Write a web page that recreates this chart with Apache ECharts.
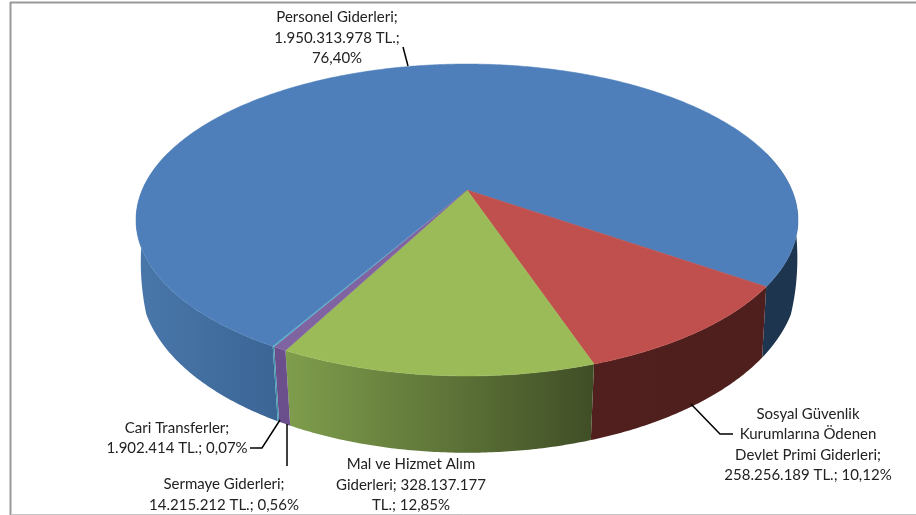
<!DOCTYPE html>
<html>
<head>
<meta charset="utf-8">
<style>html,body{margin:0;padding:0;background:#fff}#c{width:916px;height:515px}</style>
<script src="https://cdn.jsdelivr.net/npm/echarts@6/dist/echarts.min.js"></script>
</head>
<body>
<div id="c"></div>
<script>
// ---- data ----
const categories = ['Personel Giderleri','Sosyal Güvenlik Kurumlarına Ödenen Devlet Primi Giderleri','Mal ve Hizmet Alım Giderleri','Sermaye Giderleri','Cari Transferler'];
const values = [1950313978, 258256189, 328137177, 14215212, 1902414];
const labelTexts = [
  'Personel Giderleri;\n1.950.313.978 TL.;\n76,40%',
  'Sosyal Güvenlik\nKurumlarına Ödenen\nDevlet Primi Giderleri;\n258.256.189 TL.; 10,12%',
  'Mal ve Hizmet Alım\nGiderleri; 328.137.177\nTL.; 12,85%',
  'Sermaye Giderleri;\n14.215.212 TL.; 0,56%',
  'Cari Transferler;\n1.902.414 TL.; 0,07%'
];
// ---- styles and layout ----
const topColors = ['#4f7fba','#c0504d','#9bbb59','#8064a2','#4bacc6'];
const sideColors = [
  {left:['#4a77aa','#3a6595'], right:['#1e3550','#1e3550']},
  {left:['#501f1e','#501f1e'], right:['#501f1e','#4e1f1d']},
  {left:['#7f9e4c','#404e26'], right:['#7f9e4c','#404e26']},
  {left:['#6a4f8c','#6a4f8c'], right:['#6a4f8c','#6a4f8c']},
  {left:['#3f93ab','#3f93ab'], right:['#3f93ab','#3f93ab']}
];
const labelPos = [[337,38],[808,444.5],[411,485],[224,494.5],[177,438]];
const leaders = [
  [[403,47],[408,66]],
  [[691,404],[720,434],[733,434]],
  null,
  [[287,424],[287,466]],
  [[280,420],[262,448],[250,448]]
];
// projection of the pie disc (a tilted circle seen in perspective)
const view = {cx:467, cy:190, A:324.8, B:150.2, k:0.1923, d0:63.1, d1:13.7, startAngle:119.9};
const total = values.reduce((a,b)=>a+b,0);
const spans = []; { let a = view.startAngle; values.forEach(v=>{ const s=v/total*360; spans.push([a,a+s]); a+=s; }); }
function rim(deg){
  const t=deg*Math.PI/180,u=Math.cos(t),v=Math.sin(t),w=1-view.k*v;
  return [view.cx+view.A*u/w, view.cy+view.B*v/w, v];
}
function rimLow(deg){
  const p=rim(deg),v=Math.max(p[2],0),sh=0.996-0.023*v,shift=2.5*(1-v);
  const edge=Math.max(0,0.35-v)*120;
  return [view.cx+shift+(p[0]-view.cx)*sh, p[1]+view.d0+view.d1*p[2]-edge];
}
function arc(a,b,fn){
  const pts=[],n=Math.max(2,Math.ceil(Math.abs(b-a)/0.5));
  for(let i=0;i<=n;i++){ const p=fn(a+(b-a)*i/n); pts.push([p[0],p[1]]); }
  return pts;
}
function renderSide(params){
  const i=params.dataIndex,[s,e]=spans[i],children=[];
  for(let k=-1;k<=1;k++){
    const lo=Math.max(s,-15+360*k),hi=Math.min(e,195+360*k);
    if(hi<=lo) continue;
    const top=arc(lo,hi,rim),low=arc(hi,lo,rimLow),pts=top.concat(low);
    const xs=pts.map(p=>p[0]),x0=Math.min(...xs),x1=Math.max(...xs);
    const isLeft=(x0+x1)/2<view.cx && i===0;
    const st=isLeft?sideColors[i].left:sideColors[i].right;
    children.push({type:'polygon',shape:{points:pts},
      style:{fill:new echarts.graphic.LinearGradient(x0,0,x1,0,[{offset:0,color:st[0]},{offset:1,color:st[1]}],true),lineWidth:0}});
  }
  return {type:'group',children};
}
function renderTop(params){
  const i=params.dataIndex,[s,e]=spans[i];
  return {type:'polygon',shape:{points:[[view.cx,view.cy]].concat(arc(s,e,rim))},
    style:{fill:topColors[i],stroke:i===4?null:topColors[i],lineWidth:0.5}};
}
function renderLabel(params){
  const i=params.dataIndex,children=[];
  if(leaders[i]) children.push({type:'polyline',shape:{points:leaders[i]},style:{fill:null,stroke:'#000',lineWidth:1.5}});
  children.push({type:'text',style:{text:labelTexts[i],x:labelPos[i][0],y:labelPos[i][1],align:'center',verticalAlign:'middle',
    font:'15px Lato',lineHeight:20.5,fill:'#222'}});
  return {type:'group',children};
}
const rows = categories.map((c,i)=>({name:c,value:values[i]}));
const chart = echarts.init(document.getElementById('c'),null,{renderer:'canvas'});
chart.setOption({
  animation:false,
  backgroundColor:'#fff',
  graphic:[
    {type:'line',shape:{x1:10.5,y1:2,x2:10.5,y2:515},style:{stroke:'#999',lineWidth:2}},
    {type:'line',shape:{x1:10,y1:2.5,x2:916,y2:2.5},style:{stroke:'#999',lineWidth:2}},
    {type:'line',shape:{x1:11,y1:514.5,x2:916,y2:514.5},style:{stroke:'#c4c4c4',lineWidth:1}}
  ],
  series:[
    {type:'custom',coordinateSystem:'none',data:rows,renderItem:renderSide,z:1,silent:true},
    {type:'custom',coordinateSystem:'none',data:rows,renderItem:renderTop,z:2,silent:true},
    {type:'custom',coordinateSystem:'none',data:rows,renderItem:renderLabel,z:3,silent:true}
  ]
});
</script>
</body>
</html>
